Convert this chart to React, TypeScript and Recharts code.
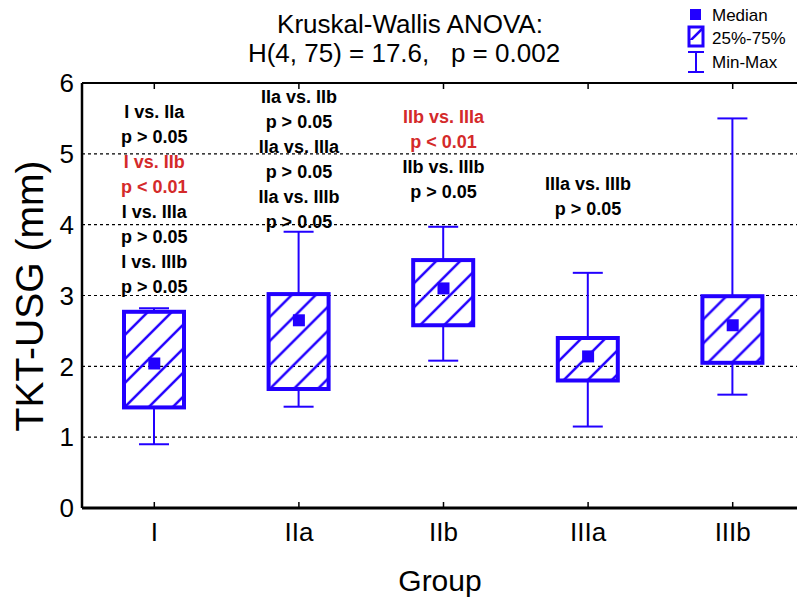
import { ComposedChart, Bar, Scatter, XAxis, YAxis, CartesianGrid } from 'recharts';

const BLUE = '#2200ff';
const RED = '#d42a2a';

// box-and-whisker values per group
const groups = ['I', 'IIa', 'IIb', 'IIIa', 'IIIb'];
const minVals = [0.9, 1.43, 2.08, 1.15, 1.6];
const q1Vals = [1.42, 1.68, 2.58, 1.8, 2.05];
const medianVals = [2.04, 2.65, 3.1, 2.14, 2.58];
const q3Vals = [2.77, 3.02, 3.5, 2.4, 2.99];
const maxVals = [2.82, 3.9, 3.97, 3.32, 5.5];
const yTicks = [0, 1, 2, 3, 4, 5, 6];

// pairwise comparison notes above each group
const noteTop = [5.59, 5.8, 5.52, 4.57, null];
const notes = [
    ['I vs. IIa', 'p > 0.05', 'I vs. IIb', 'p < 0.01', 'I vs. IIIa', 'p > 0.05', 'I vs. IIIb', 'p > 0.05'],
    ['IIa vs. IIb', 'p > 0.05', 'IIa vs. IIIa', 'p > 0.05', 'IIa vs. IIIb', 'p > 0.05'],
    ['IIb vs. IIIa', 'p < 0.01', 'IIb vs. IIIb', 'p > 0.05'],
    ['IIIa vs. IIIb', 'p > 0.05'],
    [],
];
const noteRed = [
    [false, false, true, true, false, false, false, false],
    [false, false, false, false, false, false],
    [true, true, false, false],
    [false, false],
    [],
];

const data = groups.map((g, i) => ({
    group: g,
    range: [minVals[i], maxVals[i]],
    q1: q1Vals[i],
    q3: q3Vals[i],
    median: medianVals[i],
    note: noteTop[i],
    idx: i,
}));

function BoxShape(props: any) {
    const { x, y, width, height, payload, index } = props;
    const [lo, hi] = payload.range;
    const k = height / (hi - lo);
    const py = (v: number) => y + (hi - v) * k;
    const cx = x + width / 2;
    const top = py(payload.q3);
    const bot = py(payload.q1);
    const id = `hatch-${index}`;
    return (
        <g>
            <defs>
                <pattern id={id} patternUnits="userSpaceOnUse" width={24} height={24} x={x} y={top}>
                    <path d="M0,24 L24,0 M-6,6 L6,-6 M18,30 L30,18" stroke={BLUE} strokeWidth={2.5} />
                </pattern>
            </defs>
            <line x1={cx} x2={cx} y1={y} y2={top} stroke={BLUE} strokeWidth={2} />
            <line x1={cx} x2={cx} y1={bot} y2={y + height} stroke={BLUE} strokeWidth={2} />
            <line x1={cx - 15} x2={cx + 15} y1={y} y2={y} stroke={BLUE} strokeWidth={2} />
            <line x1={cx - 15} x2={cx + 15} y1={y + height} y2={y + height} stroke={BLUE} strokeWidth={2} />
            <rect x={x} y={top} width={width} height={bot - top} fill={`url(#${id})`} stroke={BLUE} strokeWidth={4} />
        </g>
    );
}

function MedianShape(props: any) {
    const { cx, cy } = props;
    return <rect x={cx - 6} y={cy - 6} width={12} height={12} fill={BLUE} />;
}

function NoteShape(props: any) {
    const { cx, cy, payload } = props;
    const lines = notes[payload.idx];
    if (!lines || !lines.length || payload.note == null) return null;
    return (
        <g>
            {lines.map((t, j) => (
                <text
                    key={j}
                    x={cx}
                    y={cy + j * 25}
                    textAnchor="middle"
                    dominantBaseline="central"
                    fontSize={18}
                    fontWeight="bold"
                    fill={noteRed[payload.idx][j] ? RED : '#000'}
                >
                    {t}
                </text>
            ))}
        </g>
    );
}

function LegendBox() {
    return (
        <svg width={112} height={80} style={{ position: 'absolute', left: 685, top: 0 }}>
            <rect x={5} y={9} width={11} height={11} fill={BLUE} />
            <text x={27} y={15} dominantBaseline="central" fontSize={17}>Median</text>
            <defs>
                <pattern id="leg-hatch" patternUnits="userSpaceOnUse" width={40} height={40}>
                    <path d="M0,46 L20,26" stroke={BLUE} strokeWidth={2.5} />
                </pattern>
            </defs>
            <rect x={4} y={27} width={14} height={19} fill="url(#leg-hatch)" stroke={BLUE} strokeWidth={3} />
            <text x={27} y={38} dominantBaseline="central" fontSize={17}>25%-75%</text>
            <line x1={3} x2={19} y1={52} y2={52} stroke={BLUE} strokeWidth={2} />
            <line x1={11} x2={11} y1={52} y2={72} stroke={BLUE} strokeWidth={2} />
            <line x1={3} x2={19} y1={72} y2={72} stroke={BLUE} strokeWidth={2} />
            <text x={27} y={62} dominantBaseline="central" fontSize={17}>Min-Max</text>
        </svg>
    );
}

export default function App() {
    return (
        <div
            style={{
                position: 'absolute',
                left: 0,
                top: 0,
                width: 797,
                height: 598,
                overflow: 'hidden',
                background: '#fff',
                fontFamily: '"Liberation Sans", Arial, sans-serif',
                color: '#000',
            }}
        >
            <ComposedChart width={805} height={598} data={data} margin={{ top: 82, right: 0, left: 0, bottom: 0 }}>
                <CartesianGrid vertical={false} stroke="#000" strokeDasharray="3 3" strokeWidth={1.2} />
                <XAxis
                    xAxisId="top"
                    orientation="top"
                    dataKey="group"
                    height={1}
                    axisLine={{ stroke: '#000', strokeWidth: 2 }}
                    tickLine={{ stroke: '#000', strokeWidth: 1.5 }}
                    tickSize={-6}
                    tick={() => <g />}
                />
                <XAxis
                    dataKey="group"
                    height={90}
                    axisLine={{ stroke: '#000', strokeWidth: 3 }}
                    tickLine={{ stroke: '#000', strokeWidth: 1.5 }}
                    tickSize={-6}
                    tickMargin={21}
                    tick={{ fill: '#000', fontSize: 26 }}
                />
                <YAxis
                    domain={[0, 6]}
                    ticks={yTicks}
                    width={82}
                    axisLine={{ stroke: '#000', strokeWidth: 2.5 }}
                    tickLine={false}
                    tick={{ fill: '#000', fontSize: 26 }}
                />
                <Bar dataKey="range" barSize={60} shape={BoxShape} isAnimationActive={false} />
                <Scatter dataKey="median" shape={MedianShape} isAnimationActive={false} />
                <Scatter dataKey="note" shape={NoteShape} isAnimationActive={false} />
            </ComposedChart>
            <div style={{ position: 'absolute', left: 210, top: 11, width: 400, textAlign: 'center', fontSize: 26, lineHeight: '26px' }}>
                Kruskal-Wallis ANOVA:
            </div>
            <div style={{ position: 'absolute', left: 204, top: 40, width: 400, textAlign: 'center', fontSize: 26, lineHeight: '26px', whiteSpace: 'pre' }}>
                {'H(4, 75) = 17.6,   p = 0.002'}
            </div>
            <div style={{ position: 'absolute', left: 340, top: 566, width: 200, textAlign: 'center', fontSize: 30, lineHeight: '30px' }}>
                Group
            </div>
            <div
                style={{
                    position: 'absolute',
                    left: 29,
                    top: 296,
                    transform: 'translate(-50%, -50%) rotate(-90deg)',
                    fontSize: 39,
                    lineHeight: '39px',
                    whiteSpace: 'nowrap',
                }}
            >
                TKT-USG (mm)
            </div>
            <LegendBox />
        </div>
    );
}
